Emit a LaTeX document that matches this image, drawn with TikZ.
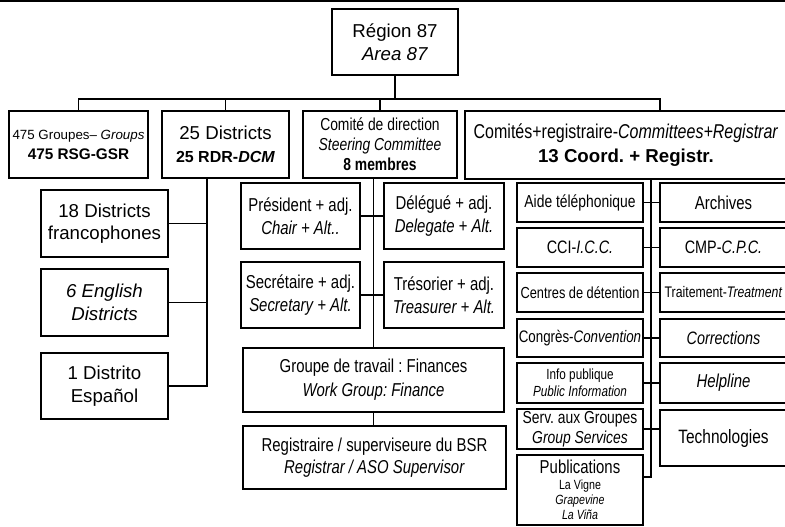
\documentclass[tikz,border=0pt]{standalone}
\usepackage{fontspec}
\setmainfont{Liberation Sans}
\newfontfamily\narrowfont[FakeStretch=0.8]{Liberation Sans}
\usetikzlibrary{positioning,calc}
\newcommand{\fsz}[2]{\fontsize{#1}{#2}\selectfont}
\frenchspacing

\begin{document}
\begin{tikzpicture}[
    x=0.75pt, y=-0.75pt,
    every node/.style={align=center, inner sep=1pt, outer sep=0pt},
    box/.style={rectangle, draw, line width=1.9pt, fill=white},
    dims/.style 2 args={minimum width=#1*0.75pt, minimum height=#2*0.75pt},
    wide/.style 2 args={font=\fsz{#1}{#2}},
    narrow/.style 2 args={font=\narrowfont\fsz{#1}{#2}},
    link/.style={line width=1.2pt}
]
\useasboundingbox (0,0) rectangle (785,526);
\clip (0,0) rectangle (785,526);

% Top rule
\draw[line width=1.3pt] (0,1) -- (785,1);

% Region
\node[box, dims={126}{66}, wide={14}{17}] (region) at (395,42) {Région 87\\\textit{Area 87}};

% First level
\node[box, dims={139}{67}, wide={11}{15}] (groups) at (78.5,144.5) {{\fsz{10}{13}475 Groupes– \textit{Groups}}\\{\fsz{11.5}{14}\bfseries 475 RSG-GSR}};
\node[box, dims={127}{67}, wide={14}{17}] (districts) at (225.5,144.5) {25 Districts\\{\fsz{12}{15}\bfseries 25 RDR-\textit{DCM}}};
\node[box, dims={154}{67}, narrow={13}{15}] (steering) at (380,144.5) {Comité de direction\\\textit{Steering Committee}\\\textbf{8 membres}};
\node[box, dims={322}{68}, narrow={15}{17.5}] (comm) at (626,145) {Comités+registraire-\textit{Committees+Registrar}\\{\normalfont\fsz{14}{17.5}\bfseries 13 Coord. + Registr.}};

% Districts
\node[box, dims={127}{67}, wide={14}{17}] (fr) at (104.5,223.5) {18 Districts\\francophones};
\node[box, dims={127}{67}, wide={14}{17}] (en) at (104.5,302.5) {\textit{6 English}\\\textit{Districts}};
\node[box, dims={127}{66}, wide={14}{17}] (es) at (104.5,386) {1 Distrito\\Español};

% Steering committee
\node[box, dims={119}{66}, narrow={14}{17}] (pres) at (300.5,216) {Président + adj.\\\textit{Chair + Alt..}};
\node[box, dims={120}{66}, narrow={14}{17}] (dele) at (444,216) {Délégué + adj.\\\textit{Delegate + Alt.}};
\node[box, dims={119}{66}, narrow={14}{17}] (secr) at (300.5,295) {Secrétaire + adj.\\\textit{Secretary + Alt.}};
\node[box, dims={120}{66}, narrow={14}{17}] (tres) at (444,295) {Trésorier + adj.\\\textit{Treasurer + Alt.}};
\node[box, dims={261}{64}, narrow={14}{18}] (finance) at (373.5,380) {Groupe de travail : Finances\\\textit{Work Group: Finance}};
\node[box, dims={263}{63}, narrow={14}{17}] (regis) at (374.5,457.5) {Registraire / superviseure du BSR\\\textit{Registrar / ASO Supervisor}};

% Committees, left column
\node[box, dims={126}{39}, narrow={13}{15}] (aide) at (580,202.5) {Aide téléphonique};
\node[box, dims={126}{39}, narrow={13.5}{15}] (cci) at (580,247.5) {CCI-\textit{I.C.C.}};
\node[box, dims={126}{39}, narrow={12}{15}] (centres) at (580,292.5) {Centres de détention};
\node[box, dims={126}{38}, narrow={12.5}{15}] (congres) at (580,338) {Congrès-\textit{Convention}};
\node[box, dims={126}{40}, narrow={11}{13}] (info) at (580,383) {Info publique\\\textit{Public Information}};
\node[box, dims={126}{40}, narrow={13}{15}] (serv) at (580,429) {Serv. aux Groupes\\\textit{Group Services}};
\node[box, dims={126}{70}, narrow={10}{11.5}] (pub) at (580,490) {{\fsz{14}{15}Publications}\\La Vigne\\\textit{Grapevine}\\\textit{La Viña}};

% Committees, right column
\node[box, dims={127}{39}, narrow={14}{15}] (archives) at (723.5,202.5) {Archives};
\node[box, dims={127}{39}, narrow={13.5}{15}] (cmp) at (723.5,247.5) {CMP-\textit{C.P.C.}};
\node[box, dims={127}{39}, narrow={11.5}{15}] (trait) at (723.5,292.5) {Traitement-\textit{Treatment}};
\node[box, dims={127}{38}, narrow={13.5}{15}] (corr) at (723.5,338) {\textit{Corrections}};
\node[box, dims={127}{40}, narrow={14}{15}] (help) at (723.5,383) {\textit{Helpline}};
\node[box, dims={127}{56}, narrow={14.5}{15}] (tech) at (723.5,438) {Technologies};

% Top level links
\coordinate (bar) at (660,99);
\draw[link] (region.south) -- (region.south |- bar);
\draw[link] (groups.north) -- (groups.north |- bar) -- (bar) -- (comm.north -| bar);
\draw[link] (districts.north) -- (districts.north |- bar);
\draw[link] (steering.north) -- (steering.north |- bar);

% District links
\coordinate (spineD) at (207,386);
\draw[link] (districts.south -| spineD) -- (spineD) -- (es.east);
\draw[link] (fr.east) -- (fr.east -| spineD);
\draw[link] (en.east) -- (en.east -| spineD);

% Steering links
\draw[link] (steering.south -| finance.north) -- (finance.north);
\draw[link] (pres.east) -- (dele.west);
\draw[link] (secr.east) -- (tres.west);
\draw[link] (finance.south) -- (finance.south |- regis.north);

% Committee links
\coordinate (hook) at (651,477);
\draw[link] (comm.south -| hook) -- (hook) -- (hook -| pub.east);
\draw[link] (aide.east) -- (aide.east -| archives.west);
\draw[link] (cci.east) -- (cci.east -| cmp.west);
\draw[link] (centres.east) -- (centres.east -| trait.west);
\draw[link] (congres.east) -- (congres.east -| corr.west);
\draw[link] (info.east) -- (info.east -| help.west);
\draw[link] (serv.east) -- (serv.east -| tech.west);

\end{tikzpicture}
\end{document}
